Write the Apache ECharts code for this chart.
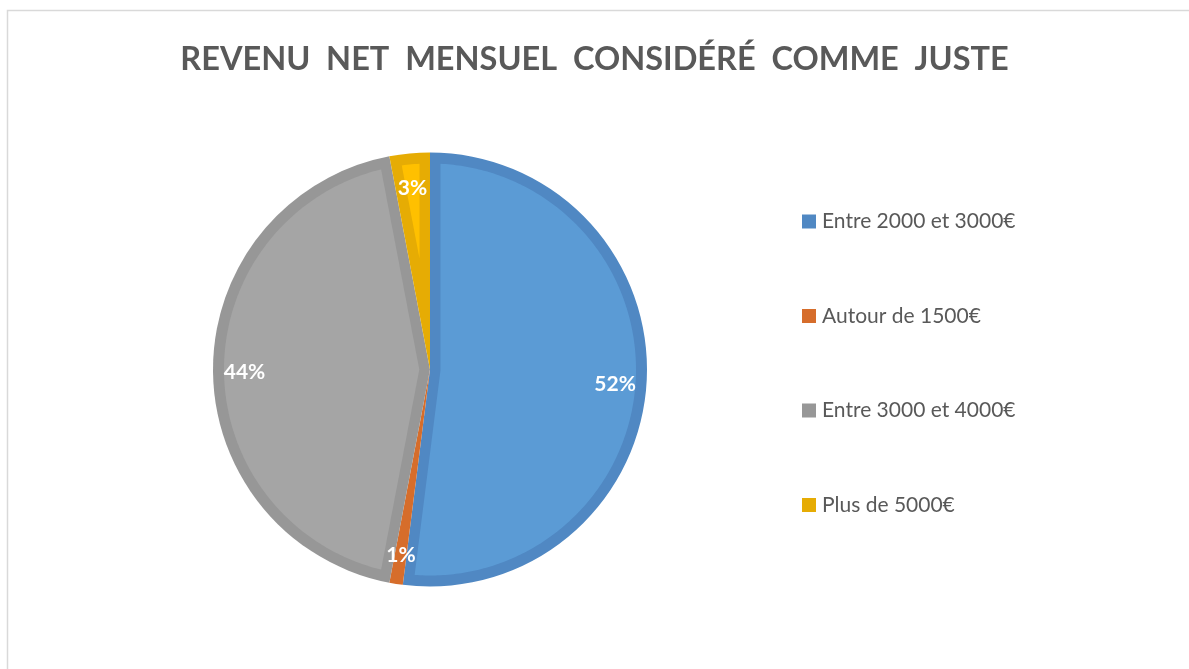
<!DOCTYPE html>
<html>
<head>
<meta charset="utf-8">
<title>Revenu net mensuel considéré comme juste</title>
<script src="https://cdn.jsdelivr.net/npm/echarts@6/dist/echarts.min.js"></script>
<style>
  html, body { margin: 0; padding: 0; background: #ffffff; }
  #chart { width: 1189px; height: 669px; }
</style>
</head>
<body>
<div id="chart"></div>
<script>
// Survey answers: monthly net income considered fair (share of respondents, %)
const categories = ['Entre 2000 et 3000€', 'Autour de 1500€', 'Entre 3000 et 4000€', 'Plus de 5000€'];
const shares = [52, 1, 44, 3];

// Each slice: a darker rim and a lighter inner face
const rimColors = ['#5088C3', '#D66D2B', '#979797', '#E6AC04'];
const faceColors = ['#5B9BD5', '#ED7D31', '#A5A5A5', '#FFC000'];

const CENTER = [430, 369.5];
const OUTER_R = 217;           // pie radius
const FACE_R = OUTER_R - 11;   // outer radius of the lighter face
const EDGE = 10.5;             // rim width along the radial edges

// Cumulative extent of every slice on the 0-100 angle scale
const sliceExtents = [];
shares.reduce((acc, v, i) => {
  sliceExtents.push([acc, acc + v, i]);
  return acc + v;
}, 0);

// Lighter face: the slice inset by the rim width on every side (mitred apex)
function renderFace(params, api) {
  const start = api.value(0);
  const end = api.value(1);
  const idx = api.value(2);
  const half = (end - start) * 3.6 / 2 * Math.PI / 180;
  const apexR = EDGE / Math.sin(half);
  if (!(apexR < FACE_R)) {
    return { type: 'group', children: [] };
  }
  const trim = Math.asin(EDGE / FACE_R) * 180 / Math.PI / 3.6;
  const a0 = start + trim;
  const a1 = end - trim;
  const points = [api.coord([apexR, (start + end) / 2]).slice(0, 2)];
  const n = Math.max(2, Math.ceil((a1 - a0) / 0.2));
  for (let k = 0; k <= n; k++) {
    points.push(api.coord([FACE_R, a0 + (a1 - a0) * k / n]).slice(0, 2));
  }
  return {
    type: 'polygon',
    shape: { points: points },
    style: { fill: faceColors[idx] }
  };
}

const chart = echarts.init(document.getElementById('chart'), null, { renderer: 'canvas' });
chart.setOption({
  backgroundColor: '#ffffff',
  animation: false,
  color: rimColors,
  title: {
    text: 'REVENU  NET  MENSUEL  CONSIDÉRÉ  COMME  JUSTE',
    left: 'center',
    top: 38,
    textStyle: {
      fontFamily: 'Lato',
      fontWeight: 'bold',
      fontSize: 32.5,
      color: '#595959'
    }
  },
  legend: {
    data: categories,
    orient: 'vertical',
    left: 802,
    top: 211,
    padding: 0,
    icon: 'rect',
    itemWidth: 14,
    itemHeight: 14,
    itemGap: 73.5,
    itemStyle: { borderWidth: 0 },
    textStyle: {
      fontFamily: 'Lato',
      fontSize: 21,
      color: '#595959',
      lineHeight: 20,
      padding: [0, 0, 0, 1]
    },
    selectedMode: false
  },
  polar: { center: CENTER, radius: OUTER_R },
  angleAxis: {
    type: 'value', min: 0, max: 100, startAngle: 90, clockwise: true,
    axisLine: { show: false }, axisTick: { show: false },
    axisLabel: { show: false }, splitLine: { show: false }
  },
  radiusAxis: {
    type: 'value', min: 0, max: OUTER_R,
    axisLine: { show: false }, axisTick: { show: false },
    axisLabel: { show: false }, splitLine: { show: false }
  },
  graphic: [{
    type: 'rect',
    silent: true,
    z: -1,
    shape: { x: 7.5, y: 10.5, width: 1200, height: 700 },
    style: { fill: 'none', stroke: '#D9D9D9', lineWidth: 1.5 }
  }],
  series: [
    {
      // Slices in their rim tone
      name: 'Revenu',
      type: 'pie',
      center: CENTER,
      radius: [0, OUTER_R],
      startAngle: 90,
      clockwise: true,
      data: categories.map((name, i) => ({
        name: name,
        value: shares[i],
        itemStyle: { color: rimColors[i] }
      })),
      label: { show: false },
      labelLine: { show: false },
      emphasis: { disabled: true },
      z: 1
    },
    {
      name: 'faces',
      type: 'custom',
      coordinateSystem: 'polar',
      data: sliceExtents,
      renderItem: renderFace,
      silent: true,
      z: 2
    },
    {
      // Percentage labels
      name: 'labels',
      type: 'pie',
      center: CENTER,
      radius: [148, OUTER_R],
      startAngle: 90,
      clockwise: true,
      data: categories.map((name, i) => ({
        name: name,
        value: shares[i],
        itemStyle: { color: 'rgba(0,0,0,0)' }
      })),
      label: {
        show: true,
        position: 'inside',
        formatter: '{c}%',
        color: '#ffffff',
        fontFamily: 'Lato',
        fontWeight: 'bold',
        fontSize: 21,
        offset: [0, 3]
      },
      labelLine: { show: false },
      emphasis: { disabled: true },
      silent: true,
      z: 3
    }
  ]
});
</script>
</body>
</html>
